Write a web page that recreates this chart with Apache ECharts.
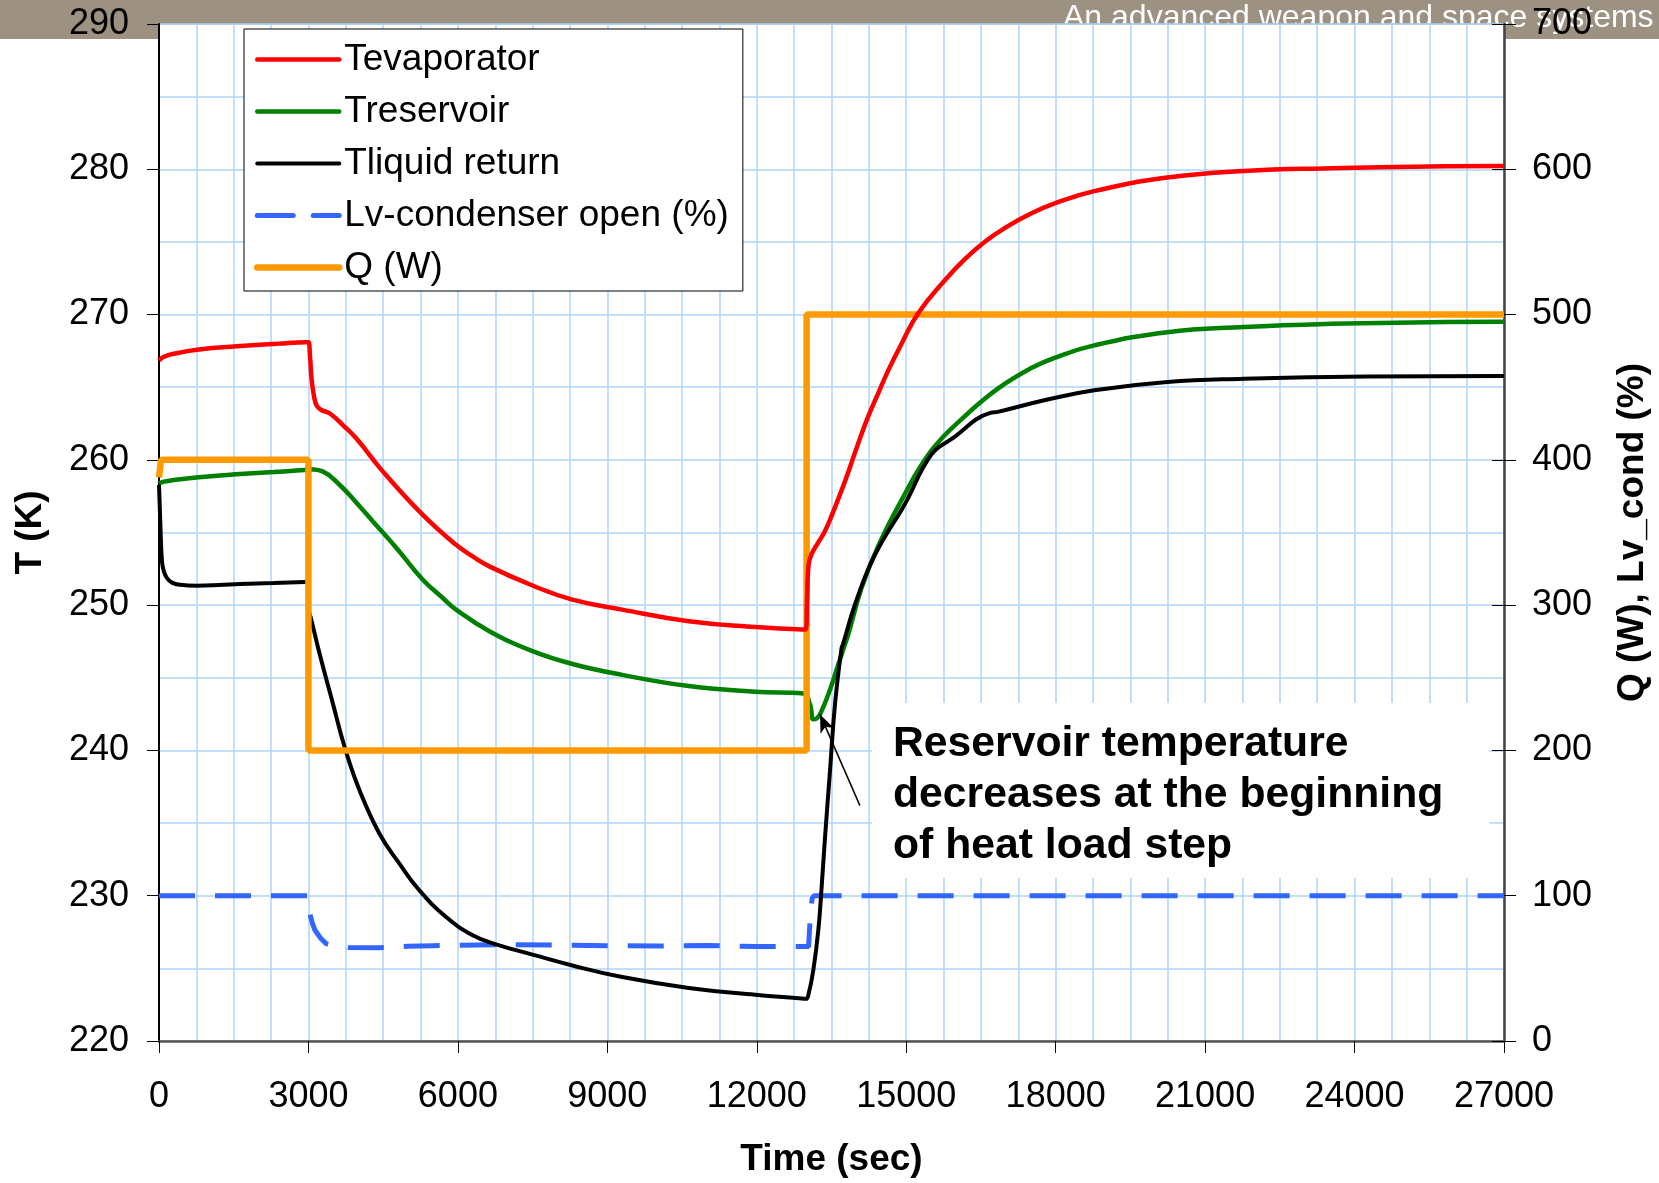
<!DOCTYPE html>
<html>
<head>
<meta charset="utf-8">
<script src="https://cdn.jsdelivr.net/npm/echarts@6/dist/echarts.min.js"></script>
<style>
  html, body { margin: 0; padding: 0; background: #fff; }
  #chart { width: 1659px; height: 1183px; }
</style>
</head>
<body>
<div id="chart"></div>
<script>
// ---------- data ----------
const xTicks = [0, 3000, 6000, 9000, 12000, 15000, 18000, 21000, 24000, 27000];

const tEvap = [0, 90, 290, 800, 1630, 2400, 2960, 3000, 3030, 3062, 3110, 3162, 3250, 3430, 3695, 3963, 4496, 5296, 5964, 6298, 6631, 7498, 8298, 9299, 10634, 11969, 12980, 13010, 13040, 13102, 13235, 13370, 13503, 13770, 14037, 14237, 14437, 14637, 14904, 15237, 15771, 16172, 16572, 17000, 17505, 18005, 18774, 20241, 21776, 23510, 25512, 27000];
const vEvap = [266.85, 267.08, 267.3, 267.6, 267.83, 268.0, 268.1, 268.1, 267.2, 265.6, 264.4, 263.76, 263.45, 263.19, 262.38, 261.47, 259.19, 256.21, 254.15, 253.35, 252.67, 251.35, 250.38, 249.69, 248.89, 248.5, 248.33, 250.5, 252.8, 253.53, 254.32, 255.11, 256.16, 258.52, 261.15, 262.99, 264.57, 266.14, 267.98, 270.08, 272.35, 273.8, 275.0, 276.0, 276.95, 277.68, 278.5, 279.43, 279.88, 280.07, 280.19, 280.23];

const tRes = [0, 100, 292, 800, 1627, 2300, 2928, 3028, 3295, 3629, 3950, 4295, 4800, 5296, 5697, 5964, 6631, 7498, 8298, 9299, 10634, 11969, 12935, 13068, 13135, 13202, 13268, 13436, 13636, 13770, 13836, 14103, 14437, 14904, 15504, 16172, 16839, 17500, 18005, 18774, 20241, 21776, 23510, 25512, 27000];
const vRes = [258.38, 258.5, 258.61, 258.8, 259.02, 259.17, 259.3, 259.35, 259.19, 258.27, 257.1, 255.76, 253.8, 251.75, 250.49, 249.69, 248.21, 246.83, 245.95, 245.2, 244.43, 244.04, 243.92, 243.17, 242.14, 242.2, 242.48, 243.85, 245.91, 247.3, 247.97, 251.17, 254.06, 257.21, 260.63, 262.99, 264.9, 266.3, 267.06, 267.88, 268.79, 269.14, 269.36, 269.48, 269.5];

const tLiq = [0, 15, 30, 60, 100, 160, 260, 426, 760, 1200, 1627, 2300, 2928, 2990, 3010, 3050, 3228, 3495, 3729, 4029, 4429, 4830, 5230, 5764, 6297, 6765, 7498, 8298, 9299, 10634, 11969, 12902, 12990, 13035, 13135, 13235, 13302, 13370, 13470, 13570, 13703, 13730, 13970, 14371, 14971, 15504, 15904, 16705, 16839, 17772, 18774, 20241, 21776, 23510, 27000];
const vLiq = [258.27, 256.8, 255.3, 253.0, 252.3, 251.86, 251.55, 251.4, 251.34, 251.38, 251.45, 251.52, 251.59, 251.6, 249.6, 249.1, 246.6, 243.17, 240.2, 237.23, 234.25, 232.19, 230.36, 228.53, 227.28, 226.65, 225.95, 225.2, 224.4, 223.65, 223.18, 222.93, 222.9, 223.16, 224.87, 227.62, 230.59, 234.02, 238.6, 243.17, 247.06, 247.3, 250.03, 253.46, 256.95, 260.36, 261.42, 263.25, 263.3, 264.1, 264.79, 265.36, 265.59, 265.71, 265.77];

const tLv = [0, 2990, 3010, 3028, 3080, 3132, 3250, 3354, 3500, 3800, 4400, 5000, 5500, 6000, 7000, 8000, 9000, 10000, 11000, 12000, 13040, 13070, 13110, 13150, 27000];
const vLv = [100, 100, 92, 87.6, 81, 76.2, 70.5, 67, 65.5, 64.3, 64.2, 65.2, 65.6, 65.9, 66.3, 66.1, 65.6, 65.4, 65.8, 65.0, 65.0, 83, 98, 100, 100];

const tQ = [0, 40, 3000, 3000, 13000, 13000, 27000];
const vQ = [388, 400, 400, 200, 200, 500, 500];

const arrowFrom = [14071, 236.2];
const arrowTo = [13270, 242.48];
const noteText = 'Reservoir temperature\ndecreases at the beginning\nof heat load step';
const bannerText = 'An advanced weapon and space systems';

// ---------- chart ----------
const FONT = '"Liberation Sans", Arial, Helvetica, sans-serif';
const pairs = (t, v) => t.map((x, i) => [x, v[i]]);
const gridColor = '#add3fa';

const chart = echarts.init(document.getElementById('chart'), null, { renderer: 'canvas' });

const option = {
  animation: false,
  textStyle: { fontFamily: FONT, color: '#000' },
  grid: {
    left: 159, right: 151, top: 24, bottom: 139,
    show: true, backgroundColor: '#fff', borderColor: '#8a8a8a', borderWidth: 1
  },
  legend: {
    orient: 'vertical',
    left: 244, top: 29,
    padding: [12, 14, 5, 10],
    itemGap: 15,
    itemWidth: 82,
    itemHeight: 2,
    backgroundColor: '#fff',
    borderColor: '#000',
    borderWidth: 1,
    itemStyle: { opacity: 0 },
    lineStyle: { width: 'inherit', type: 'inherit', cap: 'round' },
    textStyle: { fontSize: 37, color: '#000', fontFamily: FONT },
    data: ['Tevaporator', 'Treservoir', 'Tliquid return', 'Lv-condenser open (%)', 'Q (W)']
  },
  xAxis: {
    type: 'value', min: 0, max: 27000, interval: 3000,
    name: 'Time (sec)', nameLocation: 'middle', nameGap: 100,
    nameTextStyle: { fontSize: 37, fontWeight: 'bold', color: '#000', fontFamily: FONT },
    axisLine: { show: true, lineStyle: { color: '#555', width: 2.5 } },
    axisTick: { show: true, length: 12, lineStyle: { color: '#000', width: 1 } },
    axisLabel: { fontSize: 36, color: '#000', margin: 38, fontFamily: FONT,
      formatter: v => xTicks.includes(v) ? String(v) : '' },
    splitLine: { show: true, lineStyle: { color: gridColor, width: 1.5 } },
    minorTick: { show: false, splitNumber: 4 },
    minorSplitLine: { show: true, lineStyle: { color: gridColor, width: 1.5 } }
  },
  yAxis: [
    {
      type: 'value', min: 220, max: 290, interval: 10, position: 'left',
      name: 'T (K)', nameLocation: 'middle', nameRotate: 90, nameGap: 110,
      nameTextStyle: { fontSize: 37, fontWeight: 'bold', color: '#000', fontFamily: FONT },
      axisLine: { show: true, lineStyle: { color: '#000', width: 2 } },
      axisTick: { show: true, length: 12, lineStyle: { color: '#000', width: 1 } },
      axisLabel: { fontSize: 36, color: '#000', margin: 30, fontFamily: FONT },
      splitLine: { show: true, lineStyle: { color: gridColor, width: 1.5 } },
      minorTick: { show: false, splitNumber: 2 },
      minorSplitLine: { show: true, lineStyle: { color: gridColor, width: 1.5 } }
    },
    {
      type: 'value', min: 0, max: 700, interval: 100, position: 'right',
      name: 'Q (W), Lv_cond (%)', nameLocation: 'middle', nameRotate: 90, nameGap: 110,
      nameTextStyle: { fontSize: 37, fontWeight: 'bold', color: '#000', fontFamily: FONT },
      axisLine: { show: true, lineStyle: { color: '#444', width: 2.5 } },
      axisTick: { show: true, length: 12, lineStyle: { color: '#000', width: 1 } },
      axisLabel: { fontSize: 36, color: '#000', margin: 28, fontFamily: FONT },
      splitLine: { show: false }
    },
    {
      type: 'value', min: 0, max: 700, interval: 100, position: 'right',
      axisLine: { show: false },
      axisTick: { show: true, inside: true, length: 12, lineStyle: { color: '#000', width: 1 } },
      axisLabel: { show: false },
      splitLine: { show: false }
    }
  ],
  graphic: [
    { type: 'rect', z: -10, shape: { x: 0, y: 0, width: 1659, height: 39 }, style: { fill: '#9d9282' } },
    { type: 'text', z: -9, x: 1063, y: 18,
      style: { text: bannerText, fill: '#fff', font: '32px ' + FONT, verticalAlign: 'middle' } },
    { type: 'text', z: 1, x: 872, y: 703,
      style: { text: noteText, fill: '#000', font: 'bold 42.7px ' + FONT, lineHeight: 51,
        backgroundColor: '#fff', padding: [16, 46, 6, 21] } }
  ],
  series: [
    {
      name: 'Tevaporator', type: 'line', yAxisIndex: 0, z: 6,
      data: pairs(tEvap, vEvap), showSymbol: false, symbol: 'none', smooth: 0.45,
      lineStyle: { color: '#ff0000', width: 4.5 }, itemStyle: { color: '#ff0000' }
    },
    {
      name: 'Treservoir', type: 'line', yAxisIndex: 0, z: 3,
      data: pairs(tRes, vRes), showSymbol: false, symbol: 'none', smooth: 0.45,
      lineStyle: { color: '#008000', width: 4.5 }, itemStyle: { color: '#008000' },
      markLine: {
        silent: true, symbol: ['none', 'arrow'], symbolSize: [11, 18],
        label: { show: false },
        lineStyle: { color: '#000', width: 1.5, type: 'solid' },
        emphasis: { disabled: true },
        data: [[{ coord: arrowFrom }, { coord: arrowTo }]]
      }
    },
    {
      name: 'Tliquid return', type: 'line', yAxisIndex: 0, z: 4,
      data: pairs(tLiq, vLiq), showSymbol: false, symbol: 'none', smooth: 0.45,
      lineStyle: { color: '#000000', width: 4 }, itemStyle: { color: '#000000' }
    },
    {
      name: 'Lv-condenser open (%)', type: 'line', yAxisIndex: 1, z: 2,
      data: pairs(tLv, vLv), showSymbol: false, symbol: 'none',
      lineStyle: { color: '#3366ff', width: 5, type: [36, 20] }, itemStyle: { color: '#3366ff' }
    },
    {
      name: 'Q (W)', type: 'line', yAxisIndex: 1, z: 5,
      data: pairs(tQ, vQ), showSymbol: false, symbol: 'none',
      lineStyle: { color: '#ff9900', width: 6.5 }, itemStyle: { color: '#ff9900' }
    }
  ]
};

chart.setOption(option);
</script>
</body>
</html>
